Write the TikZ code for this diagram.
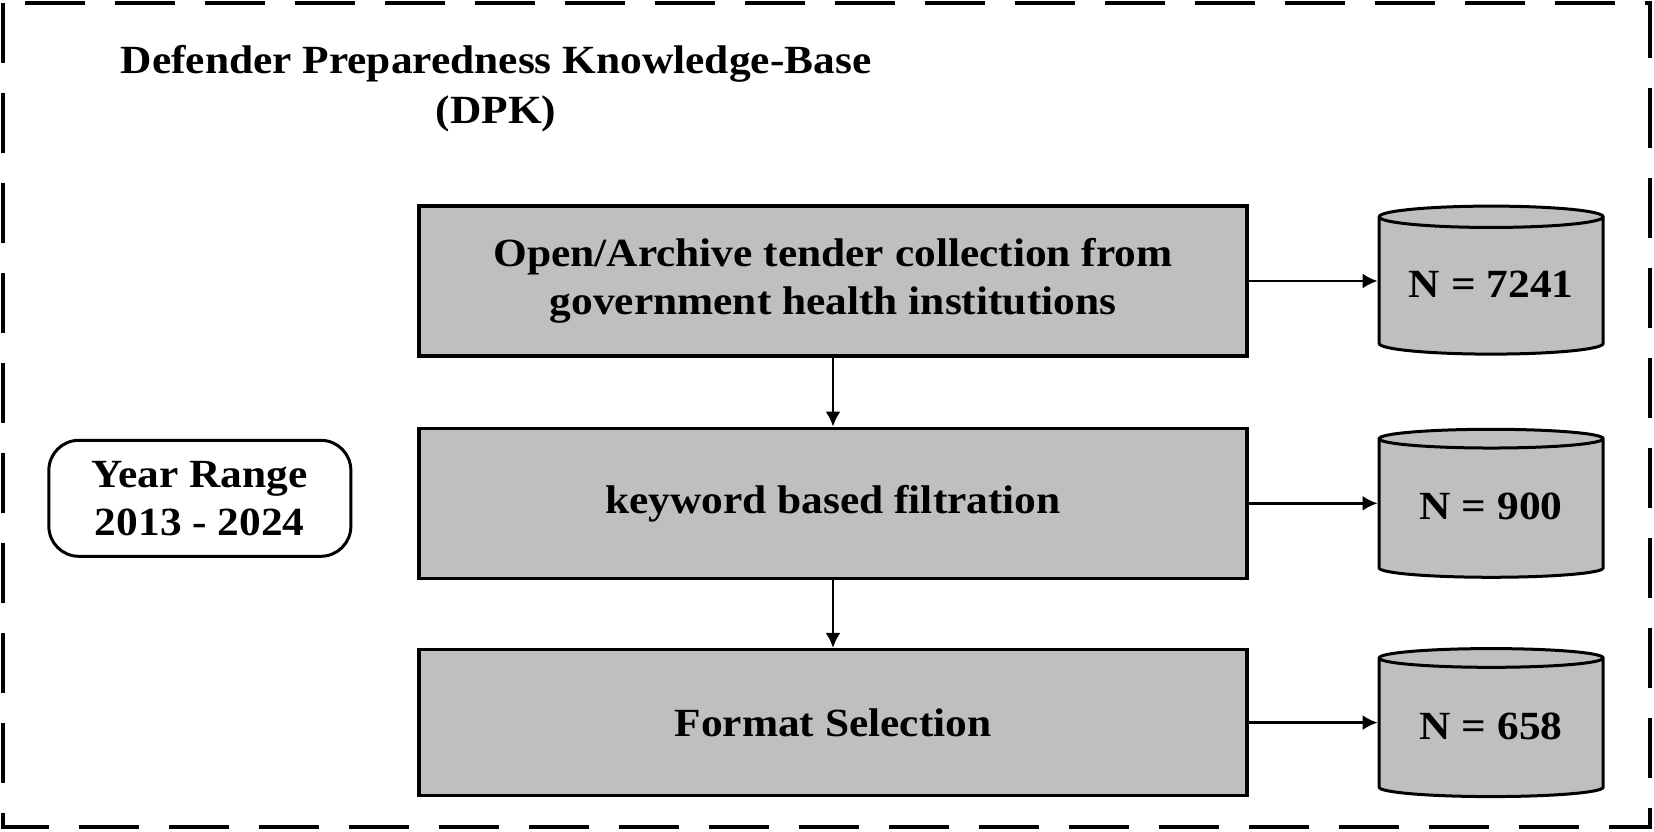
\documentclass[tikz,border=0pt]{standalone}
\usepackage{fontspec}
\setmainfont[FakeStretch=1.085]{Liberation Serif}
\usetikzlibrary{positioning,shapes.geometric,arrows.meta}

\definecolor{boxgray}{HTML}{BFBFBF}

\tikzset{
    stage/.style={draw, line width=1.65pt, fill=boxgray, minimum width=414pt,
        minimum height=75pt, align=center, font=\fontsize{20}{24}\selectfont\bfseries},
    store/.style={cylinder, shape border rotate=90, aspect=0.12, draw, line width=1.5pt,
        fill=boxgray, minimum width=112pt, minimum height=74pt, yshift=-3.5pt,
        font=\fontsize{20}{24}\selectfont\bfseries},
    flow/.style={-{Latex[length=7.5pt,width=7.5pt]}, line width=1.4pt},
    rangebox/.style={draw, line width=1.5pt, fill=white, rounded corners=15pt,
        minimum width=151pt, minimum height=58pt, align=center,
        font=\fontsize{20}{24}\selectfont\bfseries}
}
% lift the count so it sits in the middle of the drum
\newcommand{\drumtext}[1]{\raisebox{1.75pt}[\height][\depth]{#1}}

\begin{document}
\begin{tikzpicture}[x=0.5pt, y=-0.5pt]
    \useasboundingbox (0,0) rectangle (1654,831);

    % outer frame
    \draw[line width=2pt, dash pattern=on 30pt off 15pt] (3,3) rectangle (1650,827);

    \node[align=center, font=\fontsize{20}{25}\selectfont\bfseries] (dpk title) at (496,89)
        {Defender Preparedness Knowledge-Base\\(DPK)};

    % pipeline
    \node[stage] (collection) at (833,281)
        {Open/Archive tender collection from\\government health institutions};
    \node[stage, below=34.5pt of collection] (filtration) {keyword based filtration};
    \node[stage, below=34pt of filtration, minimum height=73pt] (format) {Format Selection};

    \node[store, right=64.5pt of collection] (count collection) {\drumtext{N = 7241}};
    \node[store, right=64.5pt of filtration] (count filtration) {\drumtext{N = 900}};
    \node[store, right=64.5pt of format] (count format) {\drumtext{N = 658}};

    \node[rangebox, left=32.5pt of filtration, yshift=2.5pt] (year range) {Year Range\\2013 - 2024};

    \draw[flow] (collection) -- (filtration);
    \draw[flow] (filtration) -- (format);

    \draw[flow] (collection.east) -- (collection.east -| count collection.west);
    \draw[flow] (filtration.east) -- (filtration.east -| count filtration.west);
    \draw[flow] (format.east) -- (format.east -| count format.west);
\end{tikzpicture}
\end{document}
